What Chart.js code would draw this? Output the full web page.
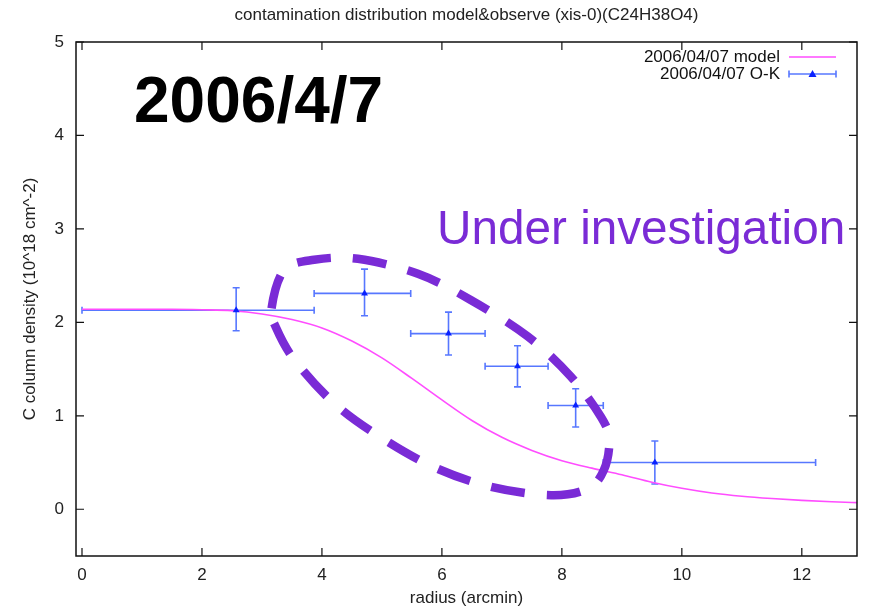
<!DOCTYPE html>
<html><head><meta charset="utf-8">
<script src="https://cdn.jsdelivr.net/npm/chart.js@4.4.0/dist/chart.umd.min.js"></script>
<style>html,body{margin:0;padding:0;background:#fff;overflow:hidden}#wrap{width:869px;height:609px;position:relative}canvas{display:block}</style>
</head><body><div id="wrap"><canvas id="c" width="869" height="609"></canvas></div>
<script>
const titleText = "contamination distribution model&observe (xis-0)(C24H38O4)";
const xTitle = "radius (arcmin)";
const yTitle = "C column density (10^18 cm^-2)";
const xTicks = [0, 2, 4, 6, 8, 10, 12];
const yTicks = [0, 1, 2, 3, 4, 5];

const modelLabel = "2006/04/07 model";
const modelX = [0, 0.5, 1, 1.5, 2, 2.5, 3, 3.5, 4, 4.5, 5, 5.5, 6, 6.5, 7, 7.5, 8, 8.5, 9, 9.5, 10, 10.5, 11, 11.5, 12, 12.5, 13];
const modelY = [2.14, 2.14, 2.14, 2.14, 2.135, 2.125, 2.09, 2.03, 1.94, 1.80, 1.62, 1.40, 1.17, 0.95, 0.77, 0.63, 0.52, 0.44, 0.37, 0.29, 0.225, 0.175, 0.14, 0.115, 0.095, 0.08, 0.07];

const obsLabel = "2006/04/07 O-K";
const obsX     = [2.57, 4.71, 6.11, 7.26, 8.23, 9.55];
const obsY     = [2.13, 2.31, 1.88, 1.53, 1.11, 0.50];
const obsXLow  = [0.00, 3.87, 5.48, 6.72, 7.77, 8.69];
const obsXHigh = [3.87, 5.48, 6.72, 7.77, 8.69, 12.23];
const obsYLow  = [1.91, 2.07, 1.65, 1.31, 0.88, 0.27];
const obsYHigh = [2.37, 2.57, 2.11, 1.75, 1.29, 0.73];

const dateNote = "2006/4/7";
const statusNote = "Under investigation";
// hand-drawn oval annotation, in data units
const ovalX = [3.16, 3.37, 3.87, 4.60, 5.60, 6.48, 7.43, 8.15, 8.65, 8.79, 8.70, 8.43, 7.82, 6.82, 5.87, 4.98, 4.21, 3.54, 3.23];
const ovalY = [2.15, 2.56, 2.67, 2.68, 2.52, 2.24, 1.85, 1.42, 0.99, 0.74, 0.42, 0.22, 0.15, 0.24, 0.45, 0.77, 1.13, 1.60, 1.95];

const FONT = "'Liberation Sans', Arial, Helvetica, sans-serif";
const PINK = '#ff4dff';
const BLUE = 'rgba(45,85,255,0.8)';
const BLUE_PT = '#0a22ff';
const PURPLE = '#7a2bd6';

const overlay = {
  id: 'overlay',
  beforeDatasetsDraw(chart) {
    const {ctx, chartArea: a, scales: {x, y}} = chart;
    ctx.save();
    ctx.beginPath(); ctx.rect(a.left, a.top, a.right - a.left, a.bottom - a.top); ctx.clip();
    ctx.strokeStyle = BLUE; ctx.lineWidth = 1.6;
    const cap = 3.5;
    for (let i = 0; i < obsX.length; i++) {
      const px = x.getPixelForValue(obsX[i]), py = y.getPixelForValue(obsY[i]);
      const xl = x.getPixelForValue(obsXLow[i]), xh = x.getPixelForValue(obsXHigh[i]);
      const yl = y.getPixelForValue(obsYLow[i]), yh = y.getPixelForValue(obsYHigh[i]);
      ctx.beginPath();
      ctx.moveTo(xl, py); ctx.lineTo(xh, py);
      ctx.moveTo(xl, py - cap); ctx.lineTo(xl, py + cap);
      ctx.moveTo(xh, py - cap); ctx.lineTo(xh, py + cap);
      ctx.moveTo(px, yl); ctx.lineTo(px, yh);
      ctx.moveTo(px - cap, yl); ctx.lineTo(px + cap, yl);
      ctx.moveTo(px - cap, yh); ctx.lineTo(px + cap, yh);
      ctx.stroke();
    }
    ctx.restore();
  },
  afterDatasetsDraw(chart) {
    const {ctx, chartArea: a, scales: {x, y}} = chart;
    ctx.save();
    // title, centred over the plot area
    ctx.font = '17px ' + FONT;
    ctx.fillStyle = '#222';
    ctx.textAlign = 'center'; ctx.textBaseline = 'middle';
    ctx.fillText(titleText, (a.left + a.right) / 2, 15);

    // frame
    ctx.strokeStyle = '#111'; ctx.lineWidth = 1.5;
    ctx.strokeRect(a.left, a.top, a.right - a.left, a.bottom - a.top);
    // inward ticks on all sides
    const tl = 8;
    ctx.lineWidth = 1.2;
    ctx.beginPath();
    xTicks.forEach(v => {
      const px = x.getPixelForValue(v);
      ctx.moveTo(px, a.bottom); ctx.lineTo(px, a.bottom - tl);
      ctx.moveTo(px, a.top); ctx.lineTo(px, a.top + tl);
    });
    yTicks.forEach(v => {
      const py = y.getPixelForValue(v);
      ctx.moveTo(a.left, py); ctx.lineTo(a.left + tl, py);
      ctx.moveTo(a.right, py); ctx.lineTo(a.right - tl, py);
    });
    ctx.stroke();

    // legend
    ctx.font = '17px ' + FONT;
    ctx.fillStyle = '#111';
    ctx.textAlign = 'right'; ctx.textBaseline = 'middle';
    const lx = 780, ly1 = 57, ly2 = 74, s0 = 789, s1 = 836;
    ctx.fillText(modelLabel, lx, ly1);
    ctx.fillText(obsLabel, lx, ly2);
    ctx.strokeStyle = PINK; ctx.lineWidth = 1.6;
    ctx.beginPath(); ctx.moveTo(s0, ly1); ctx.lineTo(s1, ly1); ctx.stroke();
    ctx.strokeStyle = BLUE;
    ctx.beginPath();
    ctx.moveTo(s0, ly2); ctx.lineTo(s1, ly2);
    ctx.moveTo(s0, ly2 - 3.5); ctx.lineTo(s0, ly2 + 3.5);
    ctx.moveTo(s1, ly2 - 3.5); ctx.lineTo(s1, ly2 + 3.5);
    ctx.stroke();
    const mx = (s0 + s1) / 2;
    ctx.fillStyle = BLUE_PT;
    ctx.beginPath(); ctx.moveTo(mx, ly2 - 4); ctx.lineTo(mx + 4, ly2 + 3); ctx.lineTo(mx - 4, ly2 + 3); ctx.closePath(); ctx.fill();

    // oval annotation
    const P = ovalX.map((v, i) => [x.getPixelForValue(v), y.getPixelForValue(ovalY[i])]);
    const n = P.length;
    ctx.strokeStyle = PURPLE; ctx.lineWidth = 8.5; ctx.lineCap = 'butt';
    ctx.setLineDash([34, 22]);
    ctx.beginPath();
    ctx.moveTo(P[0][0], P[0][1]);
    for (let i = 0; i < n; i++) {
      const p0 = P[(i - 1 + n) % n], p1 = P[i], p2 = P[(i + 1) % n], p3 = P[(i + 2) % n];
      ctx.bezierCurveTo(p1[0] + (p2[0] - p0[0]) / 6, p1[1] + (p2[1] - p0[1]) / 6,
                        p2[0] - (p3[0] - p1[0]) / 6, p2[1] - (p3[1] - p1[1]) / 6,
                        p2[0], p2[1]);
    }
    ctx.stroke();
    ctx.setLineDash([]);

    // notes
    ctx.textAlign = 'left'; ctx.textBaseline = 'alphabetic';
    ctx.fillStyle = '#000';
    ctx.font = 'bold 64px ' + FONT;
    ctx.fillText(dateNote, 134, 122);
    ctx.fillStyle = PURPLE;
    ctx.font = '47.7px ' + FONT;
    ctx.fillText(statusNote, 437, 244);
    ctx.restore();
  }
};

const tickFont = {family: FONT, size: 17};
new Chart(document.getElementById('c'), {
  type: 'scatter',
  data: {
    datasets: [
      {
        type: 'line', label: modelLabel,
        data: modelX.map((v, i) => ({x: v, y: modelY[i]})),
        borderColor: PINK, borderWidth: 1.6, pointRadius: 0,
        cubicInterpolationMode: 'monotone', fill: false, order: 1
      },
      {
        type: 'scatter', label: obsLabel,
        data: obsX.map((v, i) => ({x: v, y: obsY[i]})),
        pointStyle: 'triangle', pointRadius: 4, borderWidth: 0,
        backgroundColor: BLUE_PT, borderColor: BLUE_PT, order: 0
      }
    ]
  },
  options: {
    responsive: false, animation: false, devicePixelRatio: 1,
    layout: {padding: {left: 0, right: 12, top: 42, bottom: 0}},
    plugins: {
      legend: {display: false}, tooltip: {enabled: false}, title: {display: false}
    },
    scales: {
      x: {
        type: 'linear', min: -0.1, max: 12.92,
        afterBuildTicks: s => { s.ticks = xTicks.map(v => ({value: v})); },
        afterFit: s => { s.height = 53; },
        grid: {display: false, drawTicks: false}, border: {display: false},
        ticks: {padding: 9, font: tickFont, color: '#222', maxRotation: 0, autoSkip: false},
        title: {display: true, text: xTitle, font: tickFont, color: '#222', padding: {top: 0, bottom: 0}}
      },
      y: {
        type: 'linear', min: -0.5, max: 5,
        afterBuildTicks: s => { s.ticks = yTicks.map(v => ({value: v})); },
        afterFit: s => { s.width = 76; },
        grid: {display: false, drawTicks: false}, border: {display: false},
        ticks: {padding: 12, font: tickFont, color: '#222', autoSkip: false},
        title: {display: true, text: yTitle, font: tickFont, color: '#222', padding: {top: 20, bottom: 0}}
      }
    }
  },
  plugins: [overlay]
});
</script>
</body></html>
